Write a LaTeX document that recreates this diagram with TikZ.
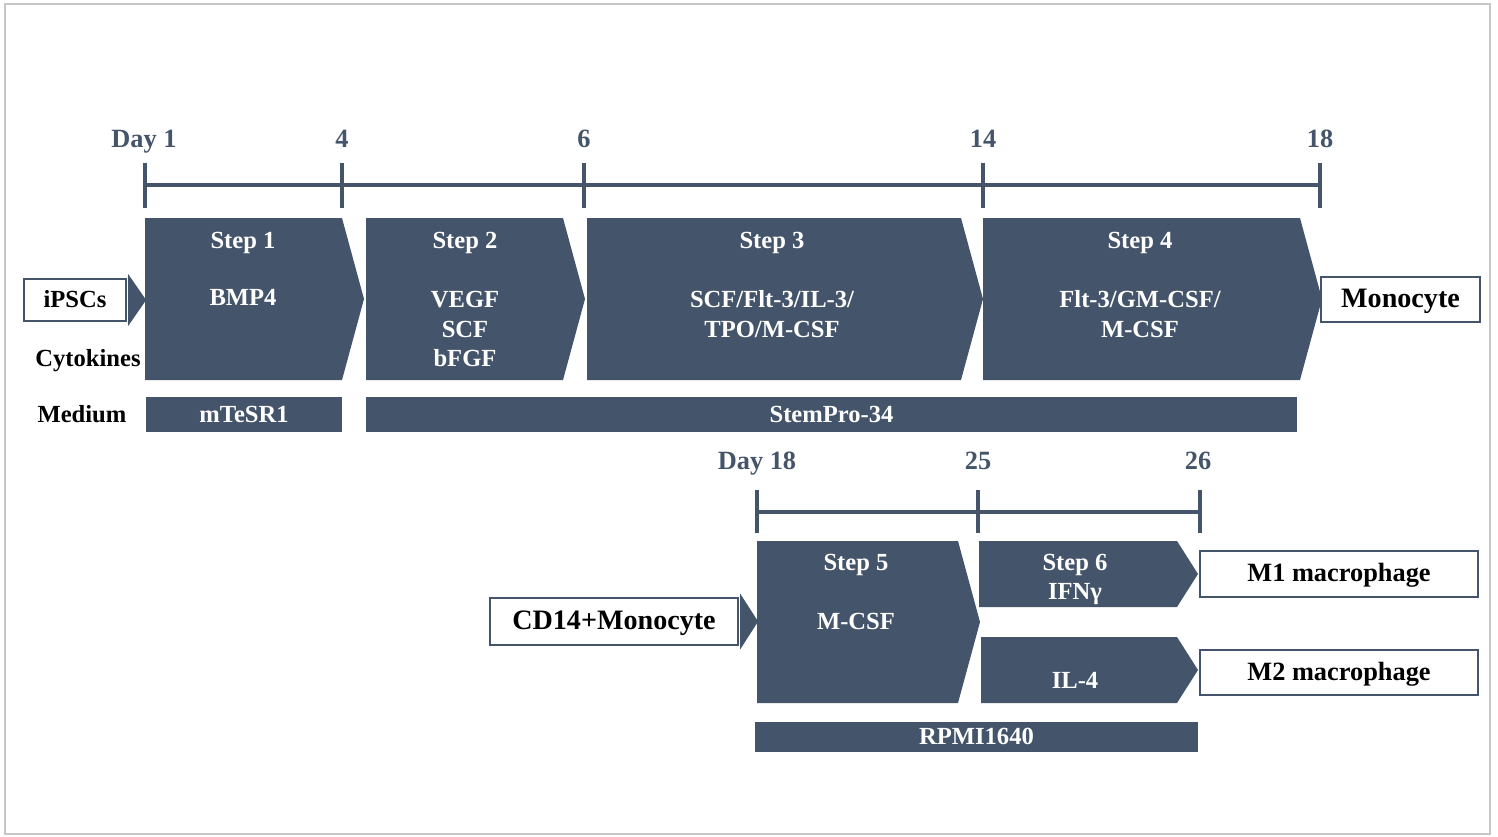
\documentclass[tikz,border=0pt]{standalone}
\usepackage{fontspec}
\setmainfont{Liberation Serif}
\usetikzlibrary{positioning, calc}

\definecolor{slate}{HTML}{44546A}

\begin{document}
\begin{tikzpicture}[
  x=0.02cm, y=-0.02cm,
  font=\bfseries\fontsize{14}{17}\selectfont,
  lbl/.style={inner sep=0pt, text height=0.9em, text depth=0pt},
  daylabel/.style={lbl, text=slate, font=\bfseries\fontsize{15}{18}\selectfont},
  timeline/.style={draw=slate, line width=2.3pt},
  stepshape/.style={fill=slate},
  steptext/.style={lbl, text=white},
  cytotext/.style={text=white, align=center, inner sep=0pt},
  mediumbar/.style={lbl, fill=slate, text=white},
  cellbox/.style={lbl, draw=slate, line width=1.3pt, fill=white, text=black},
  sidelabel/.style={lbl, text=black}
]

% Frame
\useasboundingbox (0,0) rectangle (1498,836);
\draw[gray!45, line width=0.8pt] (5,4) rectangle (1490,834);

% Timeline, Day 1 to 18
\draw[timeline] (145,185) -- (1320,185);
\foreach \x in {145,342,584,983,1320}
  \draw[timeline] (\x,163) -- (\x,208);
\node[daylabel] (day1) at (144,139.5) {Day 1};
\node[daylabel] (day4) at (342,139.5) {4};
\node[daylabel] (day6) at (584,139.5) {6};
\node[daylabel] (day14) at (983,139.5) {14};
\node[daylabel] (day18) at (1320,139.5) {18};

% Steps 1-4
\fill[stepshape] (145,218) -- (342,218) -- (364,299) -- (342,380) -- (145,380) -- cycle;
\fill[stepshape] (366,218) -- (563,218) -- (585,299) -- (563,380) -- (366,380) -- cycle;
\fill[stepshape] (587,218) -- (961,218) -- (983,299) -- (961,380) -- (587,380) -- cycle;
\fill[stepshape] (983,218) -- (1300,218) -- (1322,299) -- (1300,380) -- (983,380) -- cycle;

\node[steptext] (step1) at (243,241) {Step 1};
\node[steptext] (step2) at (465,241) {Step 2};
\node[steptext] (step3) at (772,241) {Step 3};
\node[steptext] (step4) at (1140,241) {Step 4};

\node[steptext] (cyto1) at (243,298) {BMP4};
\node[cytotext] (cyto2) at (465,329) {VEGF\\SCF\\bFGF};
\node[cytotext] (cyto3) at (772,314) {SCF/Flt-3/IL-3/\\TPO/M-CSF};
\node[cytotext] (cyto4) at (1140,314) {Flt-3/GM-CSF/\\M-CSF};

% Cells in and out
\node[cellbox, minimum width=2.04cm, minimum height=0.84cm] (ipsc) at (75,300) {iPSCs};
\fill[slate] ($(ipsc.east)+(1,-26)$) -- ($(ipsc.east)+(19,0)$) -- ($(ipsc.east)+(1,26)$) -- cycle;
\node[cellbox, minimum width=3.18cm, minimum height=0.9cm, font=\bfseries\fontsize{16}{19}\selectfont] (mono) at (1400.5,299.5) {Monocyte};

% Row labels and media
\node[sidelabel] (cytokines) at (88,358.5) {Cytokines};
\node[sidelabel] (medium) at (82,415) {Medium};
\node[mediumbar, minimum width=3.92cm, minimum height=0.7cm] (mtesr) at (244,414.5) {mTeSR1};
\node[mediumbar, minimum width=18.62cm, minimum height=0.7cm] (stempro) at (831.5,414.5) {StemPro-34};

% Timeline, Day 18 to 26
\draw[timeline] (757,512) -- (1200,512);
\foreach \x in {757,978,1200}
  \draw[timeline] (\x,490) -- (\x,533);
\node[daylabel] (day18b) at (757,462) {Day 18};
\node[daylabel] (day25) at (978,462) {25};
\node[daylabel] (day26) at (1198,462) {26};

% Steps 5-6
\fill[stepshape] (757,541) -- (958,541) -- (980,622) -- (958,703) -- (757,703) -- cycle;
\fill[stepshape] (979,541) -- (1177,541) -- (1198,574) -- (1177,607) -- (979,607) -- cycle;
\fill[stepshape] (981,637) -- (1177,637) -- (1198,670) -- (1177,703) -- (981,703) -- cycle;

\node[steptext] (step5) at (856,563) {Step 5};
\node[steptext] (cyto5) at (856,622) {M-CSF};
\node[steptext] (step6) at (1075,563) {Step 6};
\node[steptext] (cyto6a) at (1075,592) {IFNγ};
\node[steptext] (cyto6b) at (1075,681) {IL-4};

\node[cellbox, minimum width=4.96cm, minimum height=0.94cm, font=\bfseries\fontsize{16}{19}\selectfont] (cd14) at (614,621.5) {CD14+Monocyte};
\fill[slate] ($(cd14.east)+(1,-28)$) -- ($(cd14.east)+(19,0)$) -- ($(cd14.east)+(1,28)$) -- cycle;

\node[cellbox, minimum width=5.56cm, minimum height=0.92cm, font=\bfseries\fontsize{15}{18}\selectfont] (mone) at (1339,574) {M1 macrophage};
\node[cellbox, minimum width=5.56cm, minimum height=0.9cm, font=\bfseries\fontsize{15}{18}\selectfont] (mtwo) at (1339,672.5) {M2 macrophage};

\node[mediumbar, minimum width=8.86cm, minimum height=0.6cm] (rpmi) at (976.5,737) {RPMI1640};

\end{tikzpicture}
\end{document}
